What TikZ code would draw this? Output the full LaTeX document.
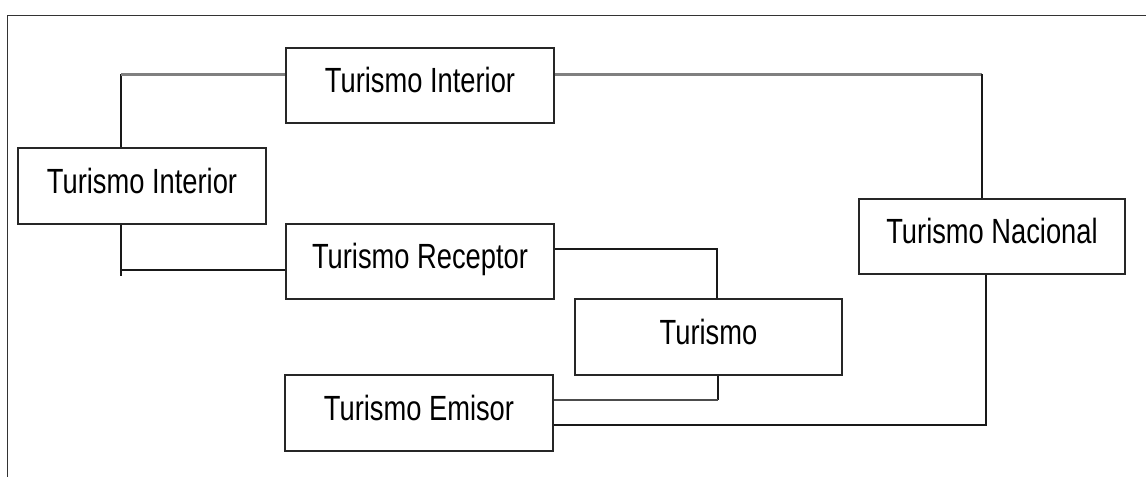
\documentclass[tikz,border=0pt]{standalone}
\usepackage{fontspec}
\setmainfont{Liberation Sans}
\newcommand\narrowtxt[1]{\scalebox{0.78}[1]{#1}}
\begin{document}
\begin{tikzpicture}[x=1pt,y=-1pt,
  box/.style={draw=black!85, line width=1.8pt, rectangle, inner sep=0pt,
    text height=25pt, text depth=11pt,
    font=\fontsize{35}{40}\selectfont},
  blk/.style={draw=black!90, line width=1.7pt},
  gry/.style={draw=black!50, line width=3pt}]
\useasboundingbox (0,0) rectangle (1146,477);
\fill[white] (0,0) rectangle (1146,477);
\draw[black!80, line width=1pt] (1146,15.5) -- (7.5,15.5) -- (7.5,477);

\node[box, minimum width=248pt, minimum height=76pt] (A) at (142,186) {\narrowtxt{Turismo Interior}};
\node[box, minimum width=268pt, minimum height=75pt] (B) at (420,85.5) {\narrowtxt{Turismo Interior}};
\node[box, minimum width=268pt, minimum height=75pt] (C) at (420,261.5) {\narrowtxt{Turismo Receptor}};
\node[box, minimum width=267pt, minimum height=76pt] (T) at (708.5,337) {\narrowtxt{Turismo}};
\node[box, minimum width=268pt, minimum height=76pt] (E) at (419,413) {\narrowtxt{Turismo Emisor}};
\node[box, minimum width=266pt, minimum height=75pt] (N) at (992,236.5) {\narrowtxt{Turismo Nacional}};

\coordinate (k1) at (121,74);
\coordinate (k2) at (982,74);
\coordinate (k3) at (121,270);
\coordinate (k3e) at (121,276);
\coordinate (k4) at (717,249);
\coordinate (k5) at (718,400);
\coordinate (k6) at (986,425);

% A - B
\draw[blk] (A.north -| k1) -- (k1);
\draw[gry] (k1) -- (B.west |- k1);
% B - N
\draw[gry] (B.east |- k2) -- (k2);
\draw[blk] (k2) -- (N.north -| k2);
% A - C
\draw[blk] (A.south -| k3) -- (k3e);
\draw[blk] (k3) -- (C.west |- k3);
% C - T
\draw[blk] (C.east |- k4) -- (k4) -- (T.north -| k4);
% T - E
\draw[blk] (T.south -| k5) -- (k5);
\draw[draw=black!70, line width=2.2pt] (k5) -- (E.east |- k5);
% E - N
\draw[blk] (E.east |- k6) -- (k6) -- (N.south -| k6);
\end{tikzpicture}
\end{document}
